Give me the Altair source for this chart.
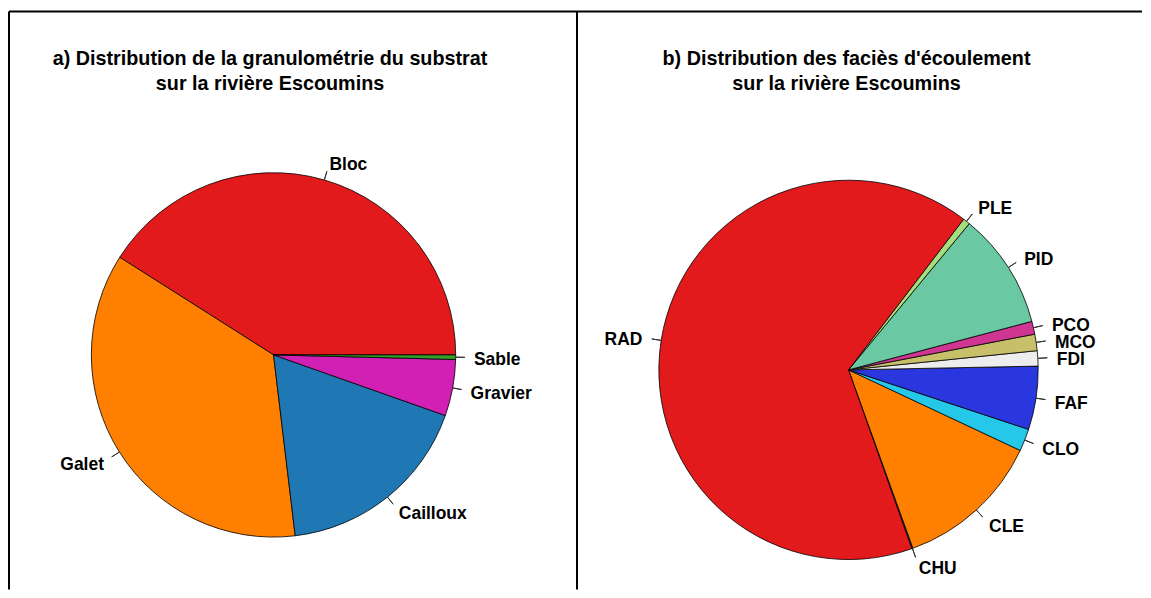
import math
import altair as alt
import pandas as pd

# ---- data -------------------------------------------------------------
title_a = ["a) Distribution de la granulométrie du substrat", "sur la rivière Escoumins"]
cats_a = ["Bloc", "Galet", "Cailloux", "Gravier", "Sable"]
vals_a = [41.0, 35.9, 17.7, 5.0, 0.4]
cols_a = ["#E31A1C", "#FF7F00", "#1F78B4", "#D21FB4", "#33A02C"]

title_b = ["b) Distribution des faciès d'écoulement", "sur la rivière Escoumins"]
cats_b = ["CHU", "CLE", "CLO", "FAF", "FDI", "MCO", "PCO", "PID", "PLE", "RAD"]
vals_b = [0.1, 12.5, 1.9, 5.4, 1.3, 1.4, 1.1, 9.9, 0.6, 65.8]
cols_b = ["#1F4E8C", "#FF7F00", "#26C8EA", "#2B37DE", "#EDEDED",
          "#C8BF6B", "#CF3591", "#6AC8A3", "#A6DE7E", "#E31A1C"]

FONT = "Liberation Sans"
H = 582


def panel(cats, vals, cols, start_deg, cx, cy, r, width, title, title_dx):
    df = pd.DataFrame({"cat": cats, "value": vals, "order": list(range(len(cats)))})
    a0 = math.pi / 2 - math.radians(start_deg)
    tscale = alt.Scale(domain=[0, 1], range=[a0, a0 - 2 * math.pi])
    base = (
        alt.Chart(df)
        .transform_joinaggregate(total="sum(value)")
        .transform_window(cum="sum(value)", sort=[alt.SortField("order")])
        .transform_calculate(
            start="(datum.cum - datum.value) / datum.total",
            end="datum.cum / datum.total",
            mid="(datum.cum - datum.value / 2) / datum.total",
        )
        .transform_calculate(phi=f"{start_deg} + 360 * datum.mid")
        .transform_calculate(side="cos(datum.phi * PI / 180) >= 0 ? 'right' : 'left'")
    )
    center = dict(x=alt.value(cx), y=alt.value(cy))
    arcs = base.mark_arc(radius=r, stroke="black", strokeWidth=0.8).encode(
        theta=alt.Theta("start:Q", scale=tscale, stack=False),
        theta2="end:Q",
        color=alt.Color("cat:N", scale=alt.Scale(domain=cats, range=cols), legend=None),
        order=alt.Order("order:Q"),
        **center,
    )
    ticks = base.mark_arc(radius=1.05 * r, radius2=r, fillOpacity=0,
                          stroke="#333333", strokeWidth=1).encode(
        theta=alt.Theta("mid:Q", scale=tscale, stack=False),
        theta2="mid:Q",
        **center,
    )
    lab_r = base.transform_filter("datum.side == 'right'").mark_text(
        radius=1.1 * r, align="left", baseline="middle", font=FONT, dy=3,
        fontSize=17.5, fontWeight="bold", color="black",
    ).encode(theta=alt.Theta("mid:Q", scale=tscale, stack=False), text="cat:N", **center)
    lab_l = base.transform_filter("datum.side == 'left'").mark_text(
        radius=1.1 * r, align="right", baseline="middle", font=FONT, dy=3,
        fontSize=17.5, fontWeight="bold", color="black",
    ).encode(theta=alt.Theta("mid:Q", scale=tscale, stack=False), text="cat:N", **center)

    one = pd.DataFrame({"k": [0]})
    top = alt.Chart(one).mark_rule(color="black", strokeWidth=2).encode(
        x=alt.value(0), x2=alt.value(width), y=alt.value(3))
    left = alt.Chart(one).mark_rule(color="black", strokeWidth=2).encode(
        x=alt.value(0), y=alt.value(3), y2=alt.value(H))

    return alt.layer(top, left, arcs, ticks, lab_r, lab_l).properties(
        width=width,
        height=H,
        title=alt.TitleParams(
            text=title, font=FONT, fontSize=19.8, fontWeight="bold", color="black",
            anchor="middle", frame="group", lineHeight=25, offset=-85, dx=title_dx,
        ),
    )


pa = panel(cats_a, vals_a, cols_a, 0.0, 265, 347, 182.5, 569, title_a, -23)
pb = panel(cats_b, vals_b, cols_b, 289.5, 272, 362, 190, 566, title_b, -13)

chart = (
    alt.hconcat(pa, pb, spacing=0, bounds="flush")
    .resolve_scale(color="independent", theta="independent")
    .properties(padding=0, background="white")
    .configure_view(strokeWidth=0)
)

chart.save("out.html", embed_options={"renderer": "svg", "actions": False})
